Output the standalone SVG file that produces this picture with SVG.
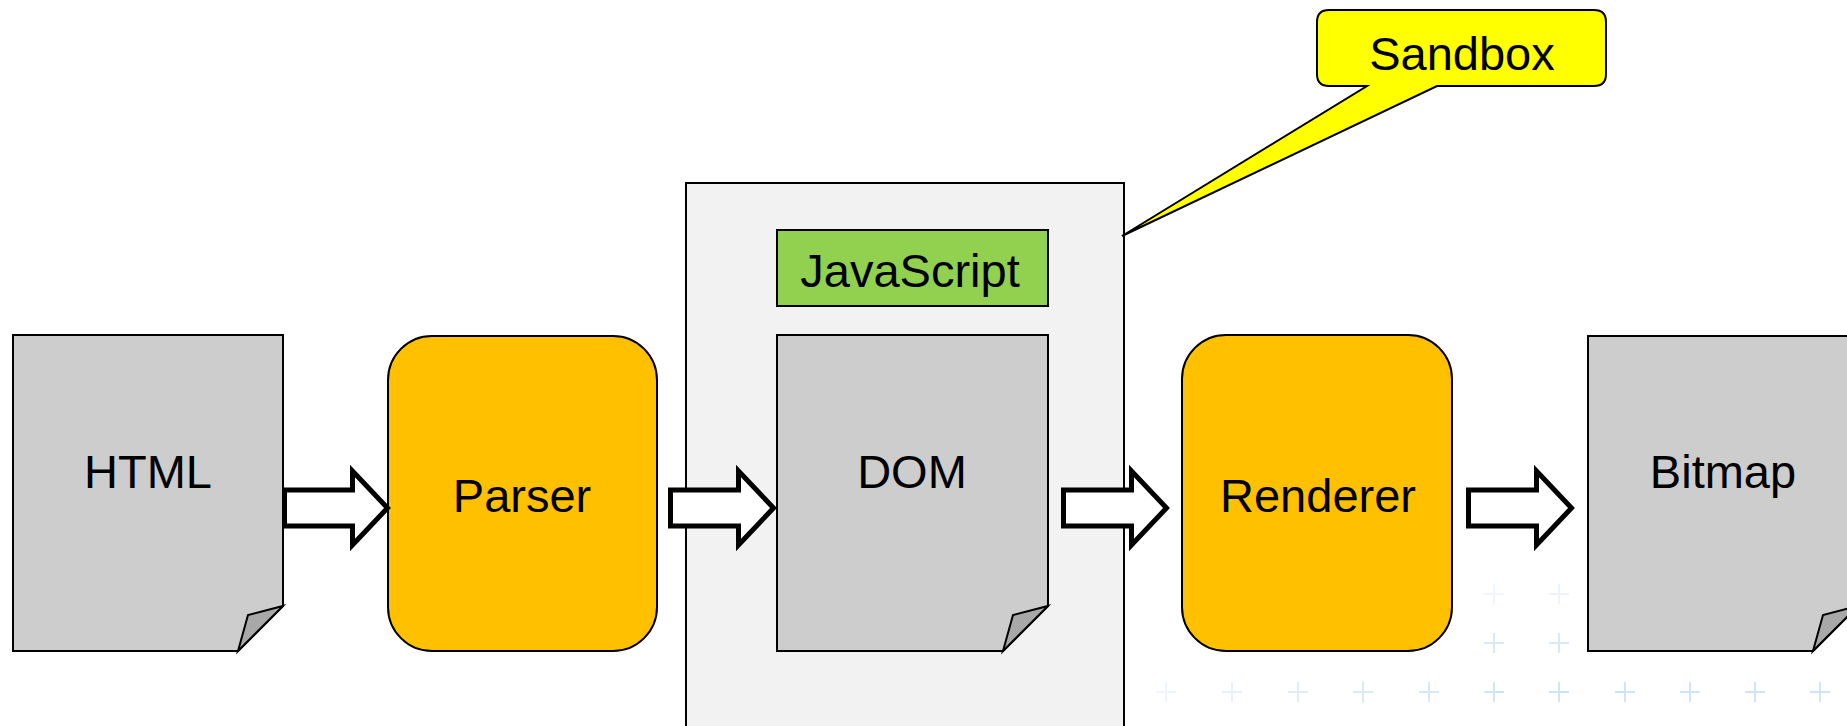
<svg xmlns="http://www.w3.org/2000/svg" width="1847" height="726" viewBox="0 0 1847 726">
  <style>
    .label { font-family: "Liberation Sans", Arial, sans-serif; font-size: 47px; fill: #000; text-anchor: middle; }
    .doc { fill: #cdcdcd; stroke: #000; stroke-width: 2; stroke-linejoin: miter; }
    .fold { fill: #a8a8a8; stroke: #000; stroke-width: 2; stroke-linejoin: miter; }
    .proc { fill: #ffc000; stroke: #000; stroke-width: 2; }
    .flow { fill: #fff; stroke: #000; stroke-width: 5; stroke-linejoin: miter; stroke-miterlimit: 10; }
    .plus { stroke: #cfe5f7; stroke-width: 2; fill: none; }
  </style>
  <defs>
    <polygon id="block-arrow" class="flow" points="0,-18 68,-18 68,-37 103,0 68,37 68,18 0,18"/>
    <path id="plus" class="plus" d="M-10,0 H10 M0,-10 V10"/>
  </defs>

  <rect width="1847" height="726" fill="#fff"/>

  <!-- faint background cross pattern -->
  <g id="backdrop">
    <use href="#plus" x="1166" y="692" opacity="0.35"/>
    <use href="#plus" x="1232" y="692" opacity="0.55"/>
    <use href="#plus" x="1298" y="692" opacity="0.7"/>
    <use href="#plus" x="1363" y="692" opacity="0.8"/>
    <use href="#plus" x="1429" y="692" opacity="0.9"/>
    <use href="#plus" x="1494" y="692" opacity="1"/>
    <use href="#plus" x="1559" y="692" opacity="1"/>
    <use href="#plus" x="1625" y="692" opacity="1"/>
    <use href="#plus" x="1690" y="692" opacity="1"/>
    <use href="#plus" x="1755" y="692" opacity="1"/>
    <use href="#plus" x="1820" y="692" opacity="1"/>
    <use href="#plus" x="1494" y="643" opacity="0.85"/>
    <use href="#plus" x="1559" y="643" opacity="0.85"/>
    <use href="#plus" x="1494" y="594" opacity="0.35"/>
    <use href="#plus" x="1559" y="594" opacity="0.4"/>
  </g>

  <!-- sandbox region -->
  <g id="sandbox-area">
    <rect x="686" y="183" width="438" height="570" fill="#f2f2f2" stroke="#000" stroke-width="2"/>
  </g>

  <!-- callout -->
  <g id="sandbox-callout">
    <path d="M1329,10 H1594 Q1606,10 1606,22 V74 Q1606,86 1594,86 H1437 L1122,236 L1367,86 H1329 Q1317,86 1317,74 V22 Q1317,10 1329,10 Z" fill="#ffff00" stroke="#000" stroke-width="2" stroke-linejoin="miter"/>
    <text class="label" x="1462" y="70">Sandbox</text>
  </g>

  <g id="html">
    <path class="doc" d="M13,335 H283 V606 L238,651 H13 Z"/>
    <path class="fold" d="M238,651 L248,615 L283,606 Z"/>
    <text class="label" x="148" y="488">HTML</text>
  </g>

  <g id="parser">
    <rect class="proc" x="388" y="336" width="269" height="315" rx="44" ry="44"/>
    <text class="label" x="522" y="512">Parser</text>
  </g>

  <g id="javascript">
    <rect x="777" y="230" width="271" height="76" fill="#92d050" stroke="#000" stroke-width="2"/>
    <text class="label" x="910" y="287">JavaScript</text>
  </g>

  <g id="dom">
    <path class="doc" d="M777,335 H1048 V606 L1003,651 H777 Z"/>
    <path class="fold" d="M1003,651 L1013,615 L1048,606 Z"/>
    <text class="label" x="912" y="488">DOM</text>
  </g>

  <g id="renderer">
    <rect class="proc" x="1182" y="335" width="270" height="316" rx="44" ry="44"/>
    <text class="label" x="1318" y="512">Renderer</text>
  </g>

  <g id="bitmap">
    <path class="doc" d="M1588,336 H1858 V606 L1813,651 H1588 Z"/>
    <path class="fold" d="M1813,651 L1823,615 L1858,606 Z"/>
    <text class="label" x="1723" y="488">Bitmap</text>
  </g>

  <!-- flow arrows between stages -->
  <g id="connectors">
    <use href="#block-arrow" x="284.5" y="508"/>
    <use href="#block-arrow" x="670.5" y="508"/>
    <use href="#block-arrow" x="1063.5" y="508"/>
    <use href="#block-arrow" x="1468.5" y="508"/>
  </g>
</svg>
